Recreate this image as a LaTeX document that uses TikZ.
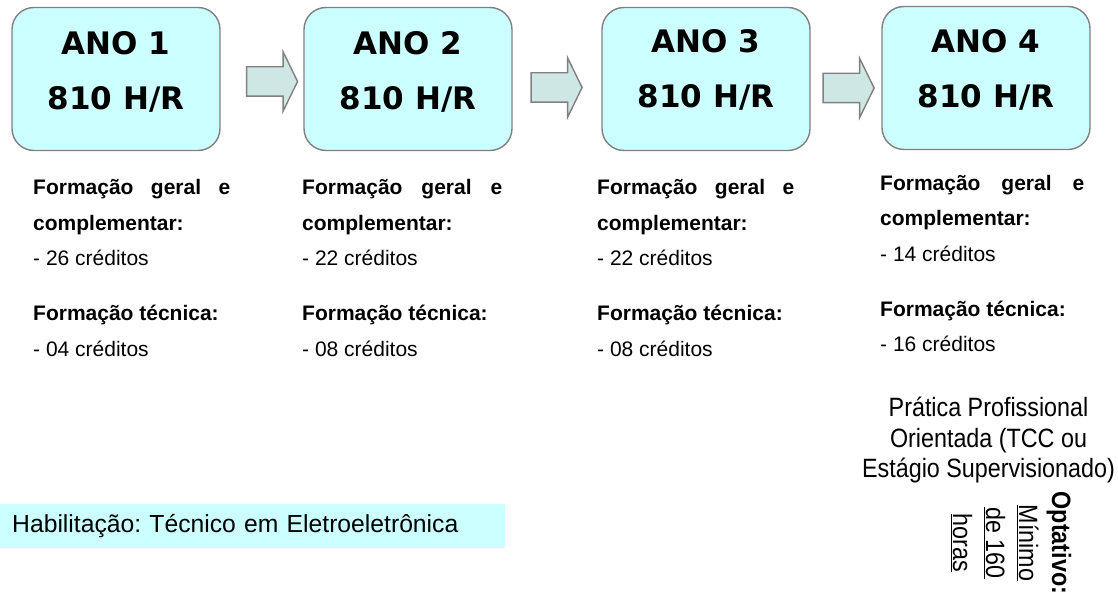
\documentclass[tikz,border=0pt]{standalone}
\usepackage{fontspec}
\setmainfont{Liberation Sans}
\newfontfamily\anofont{DejaVu Sans}
\newfontfamily\narrowfont[FakeStretch=0.88]{Liberation Sans}
\usetikzlibrary{shapes.arrows}
\definecolor{boxcyan}{HTML}{CCFFFF}
\definecolor{arrowfill}{HTML}{CFE7E4}
\definecolor{edgegray}{HTML}{808080}
\hyphenpenalty=10000
\tolerance=10000
\frenchspacing

\begin{document}
\begin{tikzpicture}[x=1pt, y=-1pt,
  anobox/.style={draw=edgegray, line width=1.4pt, fill=boxcyan, rounded corners=22pt,
    minimum width=208pt, minimum height=143pt, inner sep=0},
  anotext/.style={align=center, inner sep=0, font=\anofont\bfseries\fontsize{31}{55}\selectfont},
  seta/.style={single arrow, draw=edgegray, line width=1.4pt, fill=arrowfill,
    minimum height=51pt, text height=14pt, text depth=14pt, single arrow head extend=15pt,
    single arrow tip angle=128, inner sep=0},
  credtext/.style={anchor=north west, inner sep=0, align=justify, font=\fontsize{21}{35.5}\selectfont},
  ]
\useasboundingbox (0,0) rectangle (1118,593);

% year boxes
\node [anobox] (ano1) at (116,79) {};
\node [anobox] (ano2) at (408,79) {};
\node [anobox] (ano3) at (706,79) {};
\node [anobox] (ano4) at (986,78) {};
\node [anotext] (t1) at ([yshift=7pt]ano1.center) {ANO 1\\810 H/R};
\node [anotext] (t2) at ([yshift=7pt]ano2.center) {ANO 2\\810 H/R};
\node [anotext] (t3) at ([yshift=9pt]ano3.center) {ANO 3\\810 H/R};
\node [anotext] (t4) at ([yshift=8pt]ano4.center) {ANO 4\\810 H/R};

% block arrows between the boxes
\node [seta] (s1) at (268.5,81.5) {};
\node [seta] (s2) at (553,87.5) {};
\node [seta] (s3) at (845,88) {};

% credits under each year
\node [credtext, text width=197pt] (cred1) at (33,179.5)
  {\textbf{Formação geral e complementar:}\par - 26 créditos\par\vspace{19.5pt}
   \textbf{Formação técnica:}\par - 04 créditos};
\node [credtext, text width=200pt] (cred2) at (302,179.5)
  {\textbf{Formação geral e complementar:}\par - 22 créditos\par\vspace{19.5pt}
   \textbf{Formação técnica:}\par - 08 créditos};
\node [credtext, text width=197pt] (cred3) at (597,179.5)
  {\textbf{Formação geral e complementar:}\par - 22 créditos\par\vspace{19.5pt}
   \textbf{Formação técnica:}\par - 08 créditos};
\node [credtext, text width=204pt] (cred4) at (880,175)
  {\textbf{Formação geral e complementar:}\par - 14 créditos\par\vspace{19.5pt}
   \textbf{Formação técnica:}\par - 16 créditos};

% practice note
\node [anchor=north, align=center, inner sep=0, font=\narrowfont\fontsize{26.5}{30.5}\selectfont]
  (pratica) at (988.5,397) {Prática Profissional\\Orientada (TCC ou\\Estágio Supervisionado)};
\node [rotate=-90, align=center, inner sep=0, font=\narrowfont\fontsize{26.5}{33}\selectfont]
  (optativo) at (1011,543) {\textbf{Optativo:}\\\underline{Mínimo}\\\underline{de 160}\\\underline{horas}};

% qualification bar
\node [anchor=west, fill=boxcyan, minimum height=44pt, text width=481pt, inner xsep=12pt,
  inner ysep=0, align=left, font=\fontsize{24.7}{30}\selectfont]
  (hab) at (0,526) {Habilitação: Técnico em Eletroeletrônica};
\end{tikzpicture}
\end{document}
